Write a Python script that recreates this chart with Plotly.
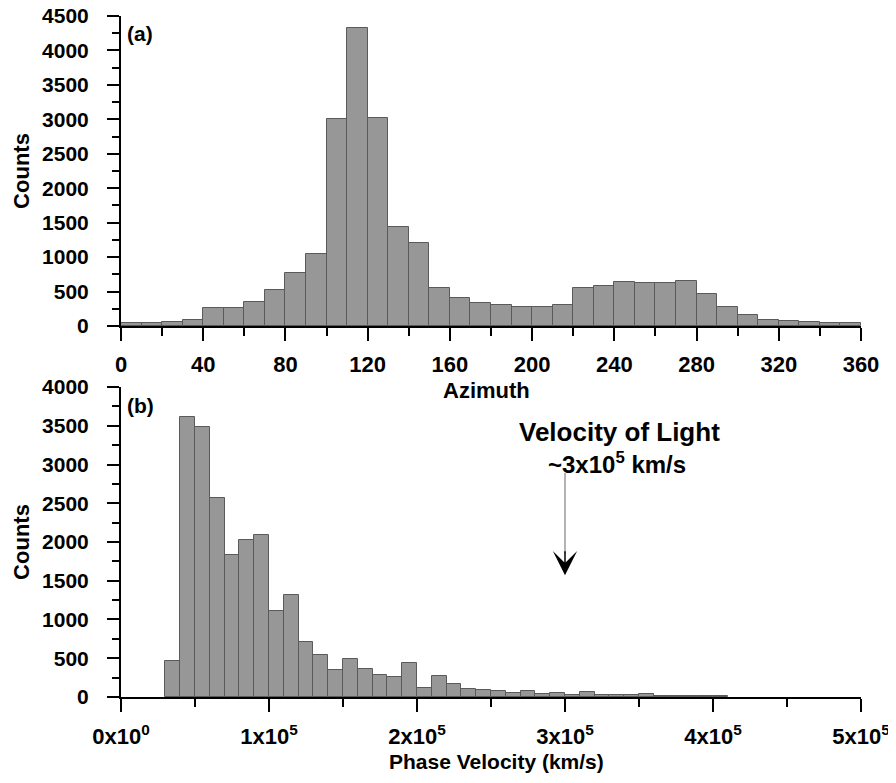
import plotly.graph_objects as go

# ---------------- data ----------------
az_bin_width = 10
az_bin_starts = list(range(0, 360, 10))
az_counts = [40, 50, 65, 85, 255, 260, 345, 520, 770, 1045,
             3000, 4320, 3015, 1430, 1200, 550, 400, 330, 300, 270,
             270, 300, 555, 580, 640, 630, 630, 650, 465, 270,
             160, 90, 75, 65, 50, 45]

vel_bin_width = 10000
vel_bin_starts = list(range(30000, 410000, 10000))
vel_counts = [460, 3615, 3480, 2570, 1835, 2030, 2090, 1110, 1315, 705,
              545, 350, 490, 360, 280, 255, 445, 115, 265, 172,
              99, 86, 73, 52, 77, 34, 47, 26, 60, 26,
              26, 22, 34, 17, 17, 12, 10, 8]

az_ticks = list(range(0, 361, 40))
vel_ticks = [0, 100000, 200000, 300000, 400000, 500000]
vel_ticktext = ["0x10<sup>0</sup>", "1x10<sup>5</sup>", "2x10<sup>5</sup>",
                "3x10<sup>5</sup>", "4x10<sup>5</sup>", "5x10<sup>5</sup>"]
light_velocity = 300000

# ---------------- styling ----------------
BAR_FILL = "#979797"
BAR_EDGE = "#5a5a5a"
ARIAL = "Liberation Sans, Arial, sans-serif"

az_centers = [s + az_bin_width / 2 for s in az_bin_starts]
vel_centers = [s + vel_bin_width / 2 for s in vel_bin_starts]

fig = go.Figure()
fig.add_trace(go.Bar(x=az_centers, y=az_counts, width=az_bin_width,
                     xaxis="x", yaxis="y",
                     marker=dict(color=BAR_FILL, line=dict(color=BAR_EDGE, width=1)),
                     showlegend=False))
fig.add_trace(go.Bar(x=vel_centers, y=vel_counts, width=vel_bin_width,
                     xaxis="x2", yaxis="y2",
                     marker=dict(color=BAR_FILL, line=dict(color=BAR_EDGE, width=1)),
                     showlegend=False))

axis_common = dict(showline=True, linecolor="black", linewidth=2, showgrid=False,
                   zeroline=False, ticks="outside", tickcolor="black", tickwidth=2,
                   automargin=False, ticklabeloverflow="allow")

bold = lambda s: dict(family=ARIAL, size=s, color="black", weight="bold")

fig.update_layout(
    width=888, height=775,
    margin=dict(l=113, r=35, t=8, b=86, autoexpand=False),
    plot_bgcolor="white", paper_bgcolor="white",
    bargap=0,
    xaxis=dict(domain=[0, 1], anchor="y", range=[0, 360],
               tickvals=az_ticks, ticklen=13,
               minor=dict(ticks="outside", dtick=20, ticklen=8, tickwidth=2, tickcolor="black"),
               tickfont=bold(22), ticklabelstandoff=5,
               **axis_common),
    yaxis=dict(domain=[0.5448, 1], anchor="x", range=[0, 4500], dtick=500, ticklen=12,
               minor=dict(ticks="outside", dtick=250, ticklen=7, tickwidth=2, tickcolor="black"),
               tickfont=bold(21), ticklabelstandoff=14,
               title=dict(text="Counts", standoff=6, font=bold(22)),
               **axis_common),
    xaxis2=dict(domain=[0, 1], anchor="y2", range=[0, 500000],
                tickvals=vel_ticks, ticktext=vel_ticktext, ticklen=13,
                minor=dict(ticks="outside", dtick=50000, ticklen=8, tickwidth=2, tickcolor="black"),
                tickfont=bold(22), ticklabelstandoff=6,
                **axis_common),
    yaxis2=dict(domain=[0, 0.4552], anchor="x2", range=[0, 4000], dtick=500, ticklen=12,
                minor=dict(ticks="outside", dtick=250, ticklen=7, tickwidth=2, tickcolor="black"),
                tickfont=bold(21), ticklabelstandoff=14,
                title=dict(text="Counts", standoff=6, font=bold(22)),
                **axis_common),
)

# axis titles for the x axes, placed as in the reference
fig.add_annotation(text="Azimuth", xref="paper", yref="paper", x=0.494, y=0.4508,
                   xanchor="center", yanchor="middle", showarrow=False, font=bold(22))
fig.add_annotation(text="Phase Velocity (km/s)", xref="paper", yref="paper", x=0.508, y=-0.094,
                   xanchor="center", yanchor="middle", showarrow=False, font=bold(21))

fig.add_annotation(text="(a)", xref="x domain", yref="y domain", x=0.0257, y=0.945,
                   xanchor="center", yanchor="middle", showarrow=False, font=bold(21))
fig.add_annotation(text="(b)", xref="x2 domain", yref="y2 domain", x=0.0264, y=0.941,
                   xanchor="center", yanchor="middle", showarrow=False, font=bold(21))

fig.add_annotation(text="Velocity of Light", xref="x2", yref="y2", x=336500, y=3415,
                   xanchor="center", yanchor="middle", showarrow=False, font=bold(26))
fig.add_annotation(text="~3x10<sup>5</sup> km/s", xref="x2", yref="y2", x=335000, y=3015,
                   xanchor="center", yanchor="middle", showarrow=False, font=bold(24))

fig.add_shape(type="line", xref="x2", yref="y2", x0=light_velocity, x1=light_velocity,
              y0=2890, y1=1850, line=dict(color="#9a9a9a", width=1.5))
fig.add_annotation(text="", xref="x2", yref="y2", axref="x2", ayref="y2",
                   x=light_velocity, y=1570, ax=light_velocity, ay=1900,
                   showarrow=True, arrowhead=3, arrowsize=2.7, arrowwidth=1.5,
                   arrowcolor="black")

fig.write_html("out.html")
